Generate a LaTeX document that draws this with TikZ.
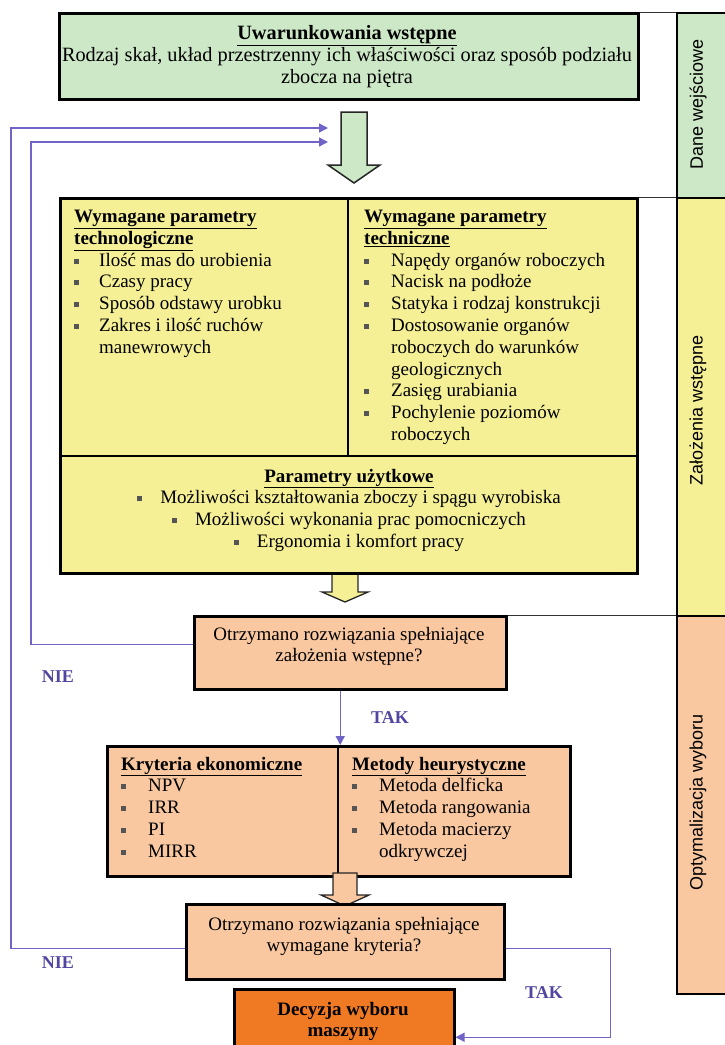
\documentclass[tikz,border=0pt]{standalone}
\usepackage{fontspec}
\setmainfont{Liberation Serif}
\newfontfamily\sidefont{Liberation Sans}
\usetikzlibrary{arrows.meta}
\definecolor{gfill}{RGB}{205,232,198}
\definecolor{yfill}{RGB}{245,240,150}
\definecolor{ofill}{RGB}{249,200,160}
\definecolor{dofill}{RGB}{240,122,36}
\definecolor{bline}{RGB}{112,100,200}
\definecolor{blab}{RGB}{80,70,160}
\definecolor{bulcol}{RGB}{85,85,85}
\newcommand\bul{\textcolor{bulcol}{\rule[2.5pt]{5pt}{5pt}}}
\newcommand\bulc{\textcolor{bulcol}{\rule[2.5pt]{5pt}{5pt}}\hspace{18pt}}
\newcommand\ttl[1]{\textbf{\underline{#1}}}
\begin{document}
\begin{tikzpicture}[x=1pt,y=-1pt,
  box/.style={draw=black, line width=2.5pt, inner sep=0pt, anchor=north west},
  sidebar/.style={draw=black, line width=1.6pt, inner sep=0pt, anchor=north west, minimum width=80pt},
  txt/.style={inner sep=0pt, font=\fontsize{19}{21.8}\selectfont},
  bigtxt/.style={inner sep=0pt, font=\fontsize{20.3}{22}\selectfont},
  sidetxt/.style={inner sep=0pt, rotate=90, font=\sidefont\fontsize{18}{20}\selectfont},
  lab/.style={inner sep=0pt, text=blab, font=\fontsize{18}{20}\selectfont\bfseries},
  bl/.style={draw=bline, line width=1.4pt},
  thin/.style={draw=black!80, line width=1pt},
  tip/.style={-{Triangle[length=9pt,width=9pt]}}
]
\useasboundingbox (0,0) rectangle (725,1045);
\clip (0,0) rectangle (725,1045);
\fill[white] (0,0) rectangle (725,1045);

% side bars
\node[sidebar, fill=gfill, minimum height=185pt] (sb1) at (676,12) {};
\node[sidebar, fill=yfill, minimum height=418pt] (sb2) at (676,197) {};
\node[sidebar, fill=ofill, minimum height=378pt] (sb3) at (676,615) {};
\node[sidetxt] (st1) at (698,104) {Dane wejściowe};
\node[sidetxt] (st2) at (698,410) {Założenia wstępne};
\node[sidetxt] (st3) at (698,802) {Optymalizacja wyboru};

% top green box
\node[box, fill=gfill, minimum width=579pt, minimum height=86pt] (gb) at (58,12) {};
\node[bigtxt, anchor=base] (gt) at (347,39) {\begin{tabular}[t]{@{}c@{}}
\ttl{Uwarunkowania wstępne}\\
Rodzaj skał, układ przestrzenny ich właściwości oraz sposób podziału\\
zbocza na piętra\end{tabular}};

% green arrow
\draw[fill=gfill, draw=black!85, line width=1.5pt, line join=miter]
  (341,112) -- (367,112) -- (367,165) -- (380,165) -- (354,183) -- (328,165) -- (341,165) -- cycle;

% yellow arrow (under box)
\draw[fill=yfill, draw=black!85, line width=1.3pt]
  (332,570) -- (358,570) -- (358,592) -- (368,592) -- (345,602) -- (322,592) -- (332,592) -- cycle;

% yellow box
\node[box, fill=yfill, minimum width=577pt, minimum height=375pt] (yb) at (59,197) {};
\draw[line width=2pt] (59,456) -- (636,456);
\draw[line width=2pt] (348,197) -- (348,456);

\node[txt, anchor=base west] (ylt) at (74,222.5) {\begin{tabular}[t]{@{}p{25pt}@{}l@{}}
\multicolumn{2}{@{}l@{}}{\ttl{Wymagane parametry}}\\
\multicolumn{2}{@{}l@{}}{\ttl{technologiczne}}\\
\bul & Ilość mas do urobienia\\
\bul & Czasy pracy\\
\bul & Sposób odstawy urobku\\
\bul & Zakres i ilość ruchów\\
 & manewrowych\end{tabular}};

\node[txt, anchor=base west] (yrt) at (364,222.5) {\begin{tabular}[t]{@{}p{27pt}@{}l@{}}
\multicolumn{2}{@{}l@{}}{\ttl{Wymagane parametry}}\\
\multicolumn{2}{@{}l@{}}{\ttl{techniczne}}\\
\bul & Napędy organów roboczych\\
\bul & Nacisk na podłoże\\
\bul & Statyka i rodzaj konstrukcji\\
\bul & Dostosowanie organów\\
 & roboczych do warunków\\
 & geologicznych\\
\bul & Zasięg urabiania\\
\bul & Pochylenie poziomów\\
 & roboczych\end{tabular}};

\node[txt, anchor=base] (ybt) at (349,482) {\begin{tabular}[t]{@{}c@{}}
\ttl{Parametry użytkowe}\\
\bulc Możliwości kształtowania zboczy i spągu wyrobiska\\
\bulc Możliwości wykonania prac pomocniczych\\
\bulc Ergonomia i komfort pracy\end{tabular}};

% decision 1
\node[box, fill=ofill, minimum width=312pt, minimum height=73pt] (d1) at (193,615) {};
\node[txt, anchor=base] (d1t) at (349,640) {\begin{tabular}[t]{@{}c@{}}
Otrzymano rozwiązania spełniające\\
założenia wstępne?\end{tabular}};

% criteria box
\node[box, fill=ofill, minimum width=463pt, minimum height=130pt] (cb) at (106,745) {};
\draw[line width=2pt] (338,745) -- (338,875);
\node[txt, anchor=base west] (cbl) at (121,770) {\begin{tabular}[t]{@{}p{27pt}@{}l@{}}
\multicolumn{2}{@{}l@{}}{\ttl{Kryteria ekonomiczne}}\\
\bul & NPV\\
\bul & IRR\\
\bul & PI\\
\bul & MIRR\end{tabular}};
\node[txt, anchor=base west] (cbr) at (352,770) {\begin{tabular}[t]{@{}p{27pt}@{}l@{}}
\multicolumn{2}{@{}l@{}}{\ttl{Metody heurystyczne}}\\
\bul & Metoda delficka\\
\bul & Metoda rangowania\\
\bul & Metoda macierzy\\
 & odkrywczej\end{tabular}};

% orange arrow (under decision 2)
\draw[fill=ofill, draw=black!85, line width=1.3pt]
  (333,873) -- (357,873) -- (357,895) -- (369,895) -- (345,906) -- (321,895) -- (333,895) -- cycle;

% decision 2
\node[box, fill=ofill, minimum width=318pt, minimum height=75pt] (d2) at (185,903) {};
\node[txt, anchor=base] (d2t) at (344,930) {\begin{tabular}[t]{@{}c@{}}
Otrzymano rozwiązania spełniające\\
wymagane kryteria?\end{tabular}};

% final decision
\node[box, fill=dofill, minimum width=220pt, minimum height=80pt] (fd) at (233,988) {};
\node[txt, anchor=base] (fdt) at (343,1015) {\begin{tabular}[t]{@{}c@{}}
\textbf{Decyzja wyboru}\\
\textbf{maszyny}\end{tabular}};

% thin lines to side bars
\draw[thin] (gb.north east) -- (sb1.north west);
\draw[thin] (yb.north east) -- (sb2.north west);
\draw[thin] (d1.north east) -- (sb3.north west);

% blue feedback connectors
\coordinate (inA) at (328,128);
\coordinate (inB) at (328,142);
\draw[bl, tip] ([yshift=-6.5pt]d2.west) -- ++(-174,0) |- (inA);
\draw[bl, tip] ([yshift=8.5pt]d1.west) -- ++(-162,0) |- (inB);
\draw[bl, tip] ([xshift=-10pt]d1.south) -- ([xshift=-10pt]d1.south |- cb.north);
\draw[bl, tip] ([yshift=-6.5pt]d2.east) -- ++(105,0) |- ([yshift=-8pt]fd.east);

% labels
\node[lab] (nie1) at (58,677) {NIE};
\node[lab] (tak1) at (390,718) {TAK};
\node[lab] (nie2) at (58,963) {NIE};
\node[lab] (tak2) at (544,993) {TAK};
\end{tikzpicture}
\end{document}
